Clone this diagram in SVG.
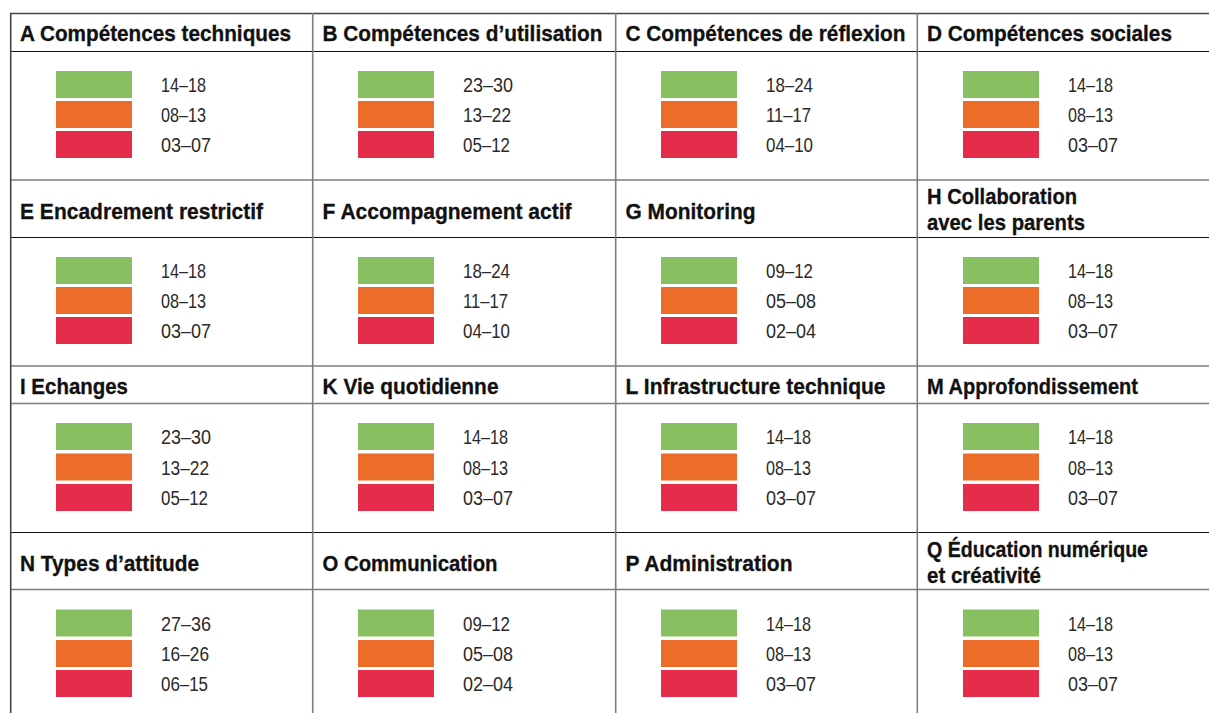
<svg xmlns="http://www.w3.org/2000/svg" width="1209" height="713" viewBox="0 0 1209 713">
<defs>
<style>
.h{font-family:"Liberation Sans",Arial,sans-serif;font-weight:bold;font-size:22px;fill:#111;stroke:#111;stroke-width:0.3}
.v{font-family:"Liberation Sans",Arial,sans-serif;font-size:20.5px;fill:#2a2a2a}
.g{fill:#88BF61}.o{fill:#EC6C29}.r{fill:#E52C4A}
.lg{stroke:#7d7d7d;stroke-width:1.6;fill:none}
.lb{stroke:#111;stroke-width:1.2;fill:none}
.ld{stroke:#444;stroke-width:1.6;fill:none}
</style>
</defs>
<rect width="1209" height="713" fill="#fff"/>
<g id="grid">
<line class="ld" x1="10" y1="13.5" x2="1209" y2="13.5"/>
<line class="lb" x1="10" y1="51.5" x2="1209" y2="51.5"/>
<line class="lg" x1="10" y1="180" x2="1209" y2="180"/>
<line class="lb" x1="10" y1="237.5" x2="1209" y2="237.5"/>
<line class="lg" x1="10" y1="366" x2="1209" y2="366"/>
<line class="lg" x1="10" y1="403.5" x2="1209" y2="403.5"/>
<line class="lb" x1="10" y1="532.5" x2="1209" y2="532.5"/>
<line class="lg" x1="10" y1="589.5" x2="1209" y2="589.5"/>
<line class="ld" x1="10.7" y1="13" x2="10.7" y2="713"/>
<line class="lg" x1="312.7" y1="13" x2="312.7" y2="713"/>
<line class="lg" x1="615.7" y1="13" x2="615.7" y2="713"/>
<line class="lg" x1="917.3" y1="13" x2="917.3" y2="713"/>
</g>

<!-- Row 1 -->
<g id="A">
<text class="h" x="20" y="40.5" textLength="271" lengthAdjust="spacingAndGlyphs">A Compétences techniques</text>
<rect class="g" x="56" y="71" width="76" height="27"/><rect class="o" x="56" y="101" width="76" height="27"/><rect class="r" x="56" y="131" width="76" height="27"/>
<text class="v" x="161" y="92.3" textLength="45" lengthAdjust="spacingAndGlyphs">14–18</text>
<text class="v" x="161" y="122.3" textLength="45" lengthAdjust="spacingAndGlyphs">08–13</text>
<text class="v" x="161" y="152.3" textLength="50" lengthAdjust="spacingAndGlyphs">03–07</text>
</g>
<g id="B">
<text class="h" x="322.5" y="40.5" textLength="280" lengthAdjust="spacingAndGlyphs">B Compétences d’utilisation</text>
<rect class="g" x="358" y="71" width="76" height="27"/><rect class="o" x="358" y="101" width="76" height="27"/><rect class="r" x="358" y="131" width="76" height="27"/>
<text class="v" x="463" y="92.3" textLength="50" lengthAdjust="spacingAndGlyphs">23–30</text>
<text class="v" x="463" y="122.3" textLength="48" lengthAdjust="spacingAndGlyphs">13–22</text>
<text class="v" x="463" y="152.3" textLength="47" lengthAdjust="spacingAndGlyphs">05–12</text>
</g>
<g id="C">
<text class="h" x="625.5" y="40.5" textLength="280" lengthAdjust="spacingAndGlyphs">C Compétences de réflexion</text>
<rect class="g" x="661" y="71" width="76" height="27"/><rect class="o" x="661" y="101" width="76" height="27"/><rect class="r" x="661" y="131" width="76" height="27"/>
<text class="v" x="766" y="92.3" textLength="47" lengthAdjust="spacingAndGlyphs">18–24</text>
<text class="v" x="766" y="122.3" textLength="45" lengthAdjust="spacingAndGlyphs">11–17</text>
<text class="v" x="766" y="152.3" textLength="47" lengthAdjust="spacingAndGlyphs">04–10</text>
</g>
<g id="D">
<text class="h" x="927" y="40.5" textLength="245" lengthAdjust="spacingAndGlyphs">D Compétences sociales</text>
<rect class="g" x="963" y="71" width="76" height="27"/><rect class="o" x="963" y="101" width="76" height="27"/><rect class="r" x="963" y="131" width="76" height="27"/>
<text class="v" x="1068" y="92.3" textLength="45" lengthAdjust="spacingAndGlyphs">14–18</text>
<text class="v" x="1068" y="122.3" textLength="45" lengthAdjust="spacingAndGlyphs">08–13</text>
<text class="v" x="1068" y="152.3" textLength="50" lengthAdjust="spacingAndGlyphs">03–07</text>
</g>

<!-- Row 2 -->
<g id="E">
<text class="h" x="20" y="219" textLength="243" lengthAdjust="spacingAndGlyphs">E Encadrement restrictif</text>
<rect class="g" x="56" y="257" width="76" height="27"/><rect class="o" x="56" y="287" width="76" height="27"/><rect class="r" x="56" y="317" width="76" height="27"/>
<text class="v" x="161" y="278.3" textLength="45" lengthAdjust="spacingAndGlyphs">14–18</text>
<text class="v" x="161" y="308.3" textLength="45" lengthAdjust="spacingAndGlyphs">08–13</text>
<text class="v" x="161" y="338.3" textLength="50" lengthAdjust="spacingAndGlyphs">03–07</text>
</g>
<g id="F">
<text class="h" x="322.5" y="219" textLength="249" lengthAdjust="spacingAndGlyphs">F Accompagnement actif</text>
<rect class="g" x="358" y="257" width="76" height="27"/><rect class="o" x="358" y="287" width="76" height="27"/><rect class="r" x="358" y="317" width="76" height="27"/>
<text class="v" x="463" y="278.3" textLength="47" lengthAdjust="spacingAndGlyphs">18–24</text>
<text class="v" x="463" y="308.3" textLength="45" lengthAdjust="spacingAndGlyphs">11–17</text>
<text class="v" x="463" y="338.3" textLength="47" lengthAdjust="spacingAndGlyphs">04–10</text>
</g>
<g id="G">
<text class="h" x="625.5" y="219" textLength="130" lengthAdjust="spacingAndGlyphs">G Monitoring</text>
<rect class="g" x="661" y="257" width="76" height="27"/><rect class="o" x="661" y="287" width="76" height="27"/><rect class="r" x="661" y="317" width="76" height="27"/>
<text class="v" x="766" y="278.3" textLength="47" lengthAdjust="spacingAndGlyphs">09–12</text>
<text class="v" x="766" y="308.3" textLength="50" lengthAdjust="spacingAndGlyphs">05–08</text>
<text class="v" x="766" y="338.3" textLength="50" lengthAdjust="spacingAndGlyphs">02–04</text>
</g>
<g id="H">
<text class="h" x="927" y="204" textLength="150" lengthAdjust="spacingAndGlyphs">H Collaboration</text>
<text class="h" x="927" y="230" textLength="158" lengthAdjust="spacingAndGlyphs">avec les parents</text>
<rect class="g" x="963" y="257" width="76" height="27"/><rect class="o" x="963" y="287" width="76" height="27"/><rect class="r" x="963" y="317" width="76" height="27"/>
<text class="v" x="1068" y="278.3" textLength="45" lengthAdjust="spacingAndGlyphs">14–18</text>
<text class="v" x="1068" y="308.3" textLength="45" lengthAdjust="spacingAndGlyphs">08–13</text>
<text class="v" x="1068" y="338.3" textLength="50" lengthAdjust="spacingAndGlyphs">03–07</text>
</g>

<!-- Row 3 -->
<g id="I">
<text class="h" x="20" y="394" textLength="108" lengthAdjust="spacingAndGlyphs">I Echanges</text>
<rect class="g" x="56" y="423" width="76" height="27"/><rect class="o" x="56" y="453.5" width="76" height="27"/><rect class="r" x="56" y="484" width="76" height="27"/>
<text class="v" x="161" y="444.3" textLength="50" lengthAdjust="spacingAndGlyphs">23–30</text>
<text class="v" x="161" y="474.8" textLength="48" lengthAdjust="spacingAndGlyphs">13–22</text>
<text class="v" x="161" y="505.3" textLength="47" lengthAdjust="spacingAndGlyphs">05–12</text>
</g>
<g id="K">
<text class="h" x="322.5" y="394" textLength="176" lengthAdjust="spacingAndGlyphs">K Vie quotidienne</text>
<rect class="g" x="358" y="423" width="76" height="27"/><rect class="o" x="358" y="453.5" width="76" height="27"/><rect class="r" x="358" y="484" width="76" height="27"/>
<text class="v" x="463" y="444.3" textLength="45" lengthAdjust="spacingAndGlyphs">14–18</text>
<text class="v" x="463" y="474.8" textLength="45" lengthAdjust="spacingAndGlyphs">08–13</text>
<text class="v" x="463" y="505.3" textLength="50" lengthAdjust="spacingAndGlyphs">03–07</text>
</g>
<g id="L">
<text class="h" x="625.5" y="394" textLength="260" lengthAdjust="spacingAndGlyphs">L Infrastructure technique</text>
<rect class="g" x="661" y="423" width="76" height="27"/><rect class="o" x="661" y="453.5" width="76" height="27"/><rect class="r" x="661" y="484" width="76" height="27"/>
<text class="v" x="766" y="444.3" textLength="45" lengthAdjust="spacingAndGlyphs">14–18</text>
<text class="v" x="766" y="474.8" textLength="45" lengthAdjust="spacingAndGlyphs">08–13</text>
<text class="v" x="766" y="505.3" textLength="50" lengthAdjust="spacingAndGlyphs">03–07</text>
</g>
<g id="M">
<text class="h" x="927" y="394" textLength="211" lengthAdjust="spacingAndGlyphs">M Approfondissement</text>
<rect class="g" x="963" y="423" width="76" height="27"/><rect class="o" x="963" y="453.5" width="76" height="27"/><rect class="r" x="963" y="484" width="76" height="27"/>
<text class="v" x="1068" y="444.3" textLength="45" lengthAdjust="spacingAndGlyphs">14–18</text>
<text class="v" x="1068" y="474.8" textLength="45" lengthAdjust="spacingAndGlyphs">08–13</text>
<text class="v" x="1068" y="505.3" textLength="50" lengthAdjust="spacingAndGlyphs">03–07</text>
</g>

<!-- Row 4 -->
<g id="N">
<text class="h" x="20" y="571" textLength="179" lengthAdjust="spacingAndGlyphs">N Types d’attitude</text>
<rect class="g" x="56" y="609.5" width="76" height="27"/><rect class="o" x="56" y="640" width="76" height="27"/><rect class="r" x="56" y="670" width="76" height="27"/>
<text class="v" x="161" y="630.8" textLength="50" lengthAdjust="spacingAndGlyphs">27–36</text>
<text class="v" x="161" y="661.3" textLength="48" lengthAdjust="spacingAndGlyphs">16–26</text>
<text class="v" x="161" y="691.3" textLength="47" lengthAdjust="spacingAndGlyphs">06–15</text>
</g>
<g id="O">
<text class="h" x="322.5" y="571" textLength="175" lengthAdjust="spacingAndGlyphs">O Communication</text>
<rect class="g" x="358" y="609.5" width="76" height="27"/><rect class="o" x="358" y="640" width="76" height="27"/><rect class="r" x="358" y="670" width="76" height="27"/>
<text class="v" x="463" y="630.8" textLength="47" lengthAdjust="spacingAndGlyphs">09–12</text>
<text class="v" x="463" y="661.3" textLength="50" lengthAdjust="spacingAndGlyphs">05–08</text>
<text class="v" x="463" y="691.3" textLength="50" lengthAdjust="spacingAndGlyphs">02–04</text>
</g>
<g id="P">
<text class="h" x="625.5" y="571" textLength="167" lengthAdjust="spacingAndGlyphs">P Administration</text>
<rect class="g" x="661" y="609.5" width="76" height="27"/><rect class="o" x="661" y="640" width="76" height="27"/><rect class="r" x="661" y="670" width="76" height="27"/>
<text class="v" x="766" y="630.8" textLength="45" lengthAdjust="spacingAndGlyphs">14–18</text>
<text class="v" x="766" y="661.3" textLength="45" lengthAdjust="spacingAndGlyphs">08–13</text>
<text class="v" x="766" y="691.3" textLength="50" lengthAdjust="spacingAndGlyphs">03–07</text>
</g>
<g id="Q">
<text class="h" x="927" y="557" textLength="221" lengthAdjust="spacingAndGlyphs">Q Éducation numérique</text>
<text class="h" x="927" y="583" textLength="114" lengthAdjust="spacingAndGlyphs">et créativité</text>
<rect class="g" x="963" y="609.5" width="76" height="27"/><rect class="o" x="963" y="640" width="76" height="27"/><rect class="r" x="963" y="670" width="76" height="27"/>
<text class="v" x="1068" y="630.8" textLength="45" lengthAdjust="spacingAndGlyphs">14–18</text>
<text class="v" x="1068" y="661.3" textLength="45" lengthAdjust="spacingAndGlyphs">08–13</text>
<text class="v" x="1068" y="691.3" textLength="50" lengthAdjust="spacingAndGlyphs">03–07</text>
</g>
</svg>
